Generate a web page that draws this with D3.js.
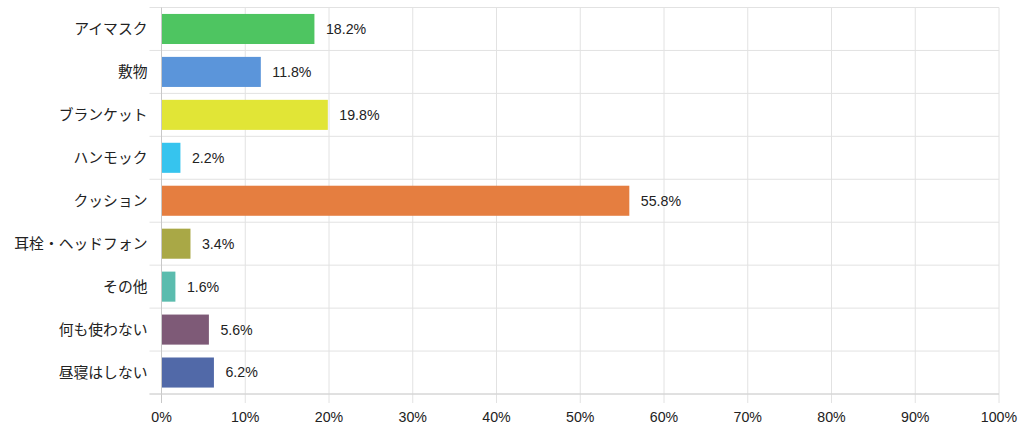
<!DOCTYPE html>
<meta charset="utf-8">
<script src="https://d3js.org/d3.v7.min.js"></script>
<style>
  body { margin: 0; background: #fff; }
  text { font-family: "Liberation Sans", Arial, "Noto Sans CJK JP", sans-serif; fill: #222; }
</style>
<div id="chart"></div>
<script>
// data
var categories = ["アイマスク", "敷物", "ブランケット", "ハンモック", "クッション", "耳栓・ヘッドフォン", "その他", "何も使わない", "昼寝はしない"];
var values = [18.2, 11.8, 19.8, 2.2, 55.8, 3.4, 1.6, 5.6, 6.2];
var colors = ["#4ec561", "#5b95da", "#e1e536", "#36c4ee", "#e57e40", "#a9a846", "#5bbcae", "#7e5a77", "#5169a8"];
var xTicks = [0, 10, 20, 30, 40, 50, 60, 70, 80, 90, 100];

var W = 1024, H = 435;
var margin = {top: 7.5, right: 25, bottom: 41, left: 161.5};
var width = W - margin.left - margin.right,
    height = H - margin.top - margin.bottom;

var svg = d3.select("#chart").append("svg")
    .attr("width", W).attr("height", H)
  .append("g")
    .attr("transform", "translate(" + margin.left + "," + margin.top + ")");

var x = d3.scaleLinear().domain([0, 100]).range([0, width]);
var y = d3.scaleBand().domain(categories).range([0, height]).paddingInner(0.3).paddingOuter(0.15);

// vertical grid
svg.selectAll(".vgrid").data(xTicks).enter().append("line")
    .attr("x1", function(d){ return x(d) }).attr("x2", function(d){ return x(d) })
    .attr("y1", 0).attr("y2", height + 9)
    .attr("stroke", "#e2e2e2").attr("stroke-width", 1);

// horizontal band lines
var bandLines = d3.range(categories.length + 1).map(function(i){ return i * height / categories.length });
svg.selectAll(".hgrid").data(bandLines).enter().append("line")
    .attr("x1", -12).attr("x2", width)
    .attr("y1", function(d){ return d }).attr("y2", function(d){ return d })
    .attr("stroke", "#e2e2e2").attr("stroke-width", 1);

// axis lines
svg.append("line").attr("x1", 0).attr("x2", 0).attr("y1", 0).attr("y2", height + 9)
    .attr("stroke", "#c8c8c8");
svg.append("line").attr("x1", -12).attr("x2", width).attr("y1", height).attr("y2", height)
    .attr("stroke", "#d0d0d0");

// bars
svg.selectAll(".bar").data(values).enter().append("rect")
    .attr("x", x(0) + 0.5)
    .attr("y", function(d, i){ return y(categories[i]) })
    .attr("width", function(d){ return x(d) - x(0) })
    .attr("height", y.bandwidth())
    .attr("fill", function(d, i){ return colors[i] });

// value labels
svg.selectAll(".val").data(values).enter().append("text")
    .attr("x", function(d){ return x(d) + 12 })
    .attr("y", function(d, i){ return y(categories[i]) + y.bandwidth() / 2 })
    .attr("dy", "0.35em")
    .style("font-size", "14.2px")
    .text(function(d){ return d.toFixed(1) + "%" });

// category labels
svg.selectAll(".cat").data(categories).enter().append("text")
    .attr("x", -14)
    .attr("y", function(d){ return y(d) + y.bandwidth() / 2 })
    .attr("dy", "0.35em")
    .attr("text-anchor", "end")
    .style("font-size", "14.8px")
    .text(function(d){ return d });

// x tick labels
svg.selectAll(".xt").data(xTicks).enter().append("text")
    .attr("x", function(d){ return x(d) })
    .attr("y", height + 23)
    .attr("dy", "0.35em")
    .attr("text-anchor", "middle")
    .style("font-size", "14.2px")
    .text(function(d){ return d + "%" });
</script>
